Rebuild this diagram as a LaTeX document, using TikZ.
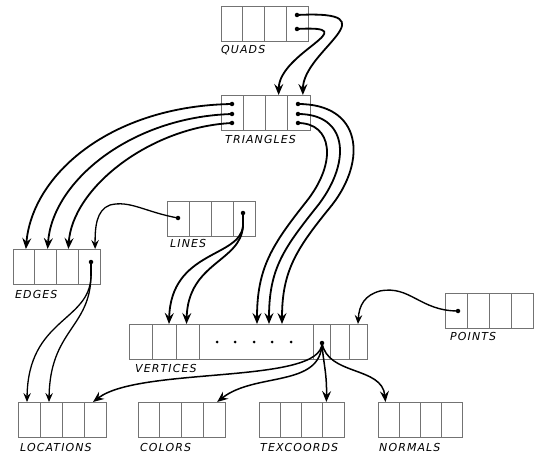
\documentclass[tikz,border=0pt]{standalone}
\usepackage{fontspec}
\newfontfamily\hand[LetterSpace=10]{DejaVu Sans}
\usetikzlibrary{arrows.meta}
\tikzset{
  cell/.style={draw=black!55, line width=0.7pt, minimum width=#1pt, minimum height=35pt,
    inner sep=0pt, outer sep=0pt, anchor=north west},
  lbl/.style={font=\hand\itshape\fontsize{11}{12}\selectfont, anchor=west, inner sep=0pt},
  dotc/.style={circle, fill=black, inner sep=0pt, minimum size=4.5pt},
  smalldot/.style={circle, fill=black, inner sep=0pt, minimum size=3pt},
  link/.style={line width=1.8pt, -{Stealth[length=11pt,width=9pt,inset=4pt]}},
  flink/.style={line width=1.3pt, -{Stealth[length=9pt,width=7.5pt,inset=3.2pt]}},
  stub/.style={line width=1.8pt}
}
\newcommand\rec[5]{%
  \foreach \i in {1,...,#5}{\node[cell=#4] (#1\i) at ({#2+(\i-1)*#4},#3) {};}%
}
\begin{document}
\begin{tikzpicture}[x=1pt,y=-1pt]
\useasboundingbox (0,0) rectangle (535,457);
% records
\rec{q}{221}{6}{21.75}{4}
\rec{t}{221}{95}{22.25}{4}
\rec{e}{13}{249}{21.75}{4}
\rec{l}{167}{201}{22}{4}
\rec{p}{445}{293}{22}{4}
\rec{lo}{18}{402}{22}{4}
\rec{co}{138}{402}{21.75}{4}
\rec{tx}{259}{402}{21.25}{4}
\rec{no}{378}{402}{21}{4}
% vertices
\node[cell=23] (v1) at (129,324) {};
\node[cell=24] (v2) at (152,324) {};
\node[cell=23] (v3) at (176,324) {};
\node[cell=114] (v4) at (199,324) {};
\node[cell=17] (v5) at (313,324) {};
\node[cell=19] (v6) at (330,324) {};
\node[cell=18] (v7) at (349,324) {};
\foreach \k/\xx in {1/217,2/235,3/254,4/272,5/291}{\node[smalldot] (vd\k) at (\xx,342) {};}
% labels
\node[lbl] (Lq) at (221,50) {QUADS};
\node[lbl] (Lt) at (225,139) {TRIANGLES};
\node[lbl] (Le) at (15,294) {EDGES};
\node[lbl] (Ll) at (170,243) {LINES};
\node[lbl] (Lv) at (135,368) {VERTICES};
\node[lbl] (Lp) at (450,336) {POINTS};
\node[lbl] (Llo) at (20,447) {LOCATIONS};
\node[lbl] (Lco) at (140,447) {COLORS};
\node[lbl] (Ltx) at (260,447) {TEXCOORDS};
\node[lbl] (Lno) at (379,447) {NORMALS};
% dots
\node[dotc] (qa) at (297,15) {};
\node[dotc] (qb) at (297,29) {};
\node[dotc] (tl1) at (232,104) {};
\node[dotc] (tl2) at (232,114) {};
\node[dotc] (tl3) at (232,123) {};
\node[dotc] (tr1) at (298,104) {};
\node[dotc] (tr2) at (298,114) {};
\node[dotc] (tr3) at (298,123) {};
\node[dotc] (la) at (178,218) {};
\node[dotc] (lb) at (243,213) {};
\node[dotc] (ed) at (91,262) {};
\node[dotc] (pd) at (458,311) {};
\node[dotc] (vd) at (322,343) {};
\coordinate (lbs) at (243,226);
\coordinate (eds) at (91,276);
% quads -> triangles
\draw[link] (qa.center) .. controls (395,10) and (303,50) .. ([xshift=4pt]t4.north);
\draw[link] (qb.center) .. controls (368,25) and (279,52) .. ([xshift=2pt]t3.north);
% triangles -> edges
\draw[link] (tl1.center) .. controls (110,106) and (32,175) .. ([xshift=2pt]e1.north);
\draw[link] (tl2.center) .. controls (130,117) and (52,182) .. ([xshift=2pt]e2.north);
\draw[link] (tl3.center) .. controls (150,127) and (72,188) .. ([xshift=1pt]e3.north);
% triangles -> vertices
\draw[link] (tr1.center) .. controls (362,104) and (367,160) .. (332,205)
   .. controls (297,248) and (282,270) .. ([xshift=-31pt]v4.north east);
\draw[link] (tr2.center) .. controls (347,114) and (352,160) .. (319,204)
   .. controls (284,248) and (269,268) .. ([xshift=-44pt]v4.north east);
\draw[link] (tr3.center) .. controls (332,123) and (338,162) .. (306,202)
   .. controls (272,245) and (257,268) .. ([xshift=-56pt]v4.north east);
% lines -> edges
\draw[flink] (la.center) .. controls (145,212) and (130,200) .. (110,205)
   .. controls (96,210) and (95,228) .. ([xshift=6pt]e4.north);
% lines -> vertices
\draw[stub] (lb.center) -- (lbs);
\draw[link] (lbs) .. controls (240,258) and (171,250) .. ([xshift=5pt]v2.north);
\draw[link] (lbs) .. controls (241,262) and (188,262) .. ([xshift=-1pt]v3.north);
% edges -> locations
\draw[stub,line width=1.3pt] (ed.center) -- (eds);
\draw[flink] (eds) .. controls (90,322) and (28,318) .. ([xshift=-2pt]lo1.north);
\draw[flink] (eds) .. controls (90,328) and (50,330) .. ([xshift=-2pt]lo2.north);
% points -> vertices
\draw[flink,line width=1.4pt] (pd.center) .. controls (420,311) and (410,285) .. (380,291)
   .. controls (365,295) and (359,305) .. (v7.north);
% vertices -> attribute arrays
\draw[link,line width=1.5pt] (vd.center) .. controls (322,385) and (140,366) .. ([xshift=-2pt]lo4.north);
\draw[link,line width=1.5pt] (vd.center) .. controls (321,388) and (255,372) .. ([xshift=3pt]co4.north);
\draw[link,line width=1.5pt] (vd.center) .. controls (323,362) and (327,372) .. ([xshift=-7pt]tx4.north);
\draw[link,line width=1.5pt] (vd.center) .. controls (328,376) and (382,366) .. ([xshift=-3pt]no1.north);
\end{tikzpicture}
\end{document}
